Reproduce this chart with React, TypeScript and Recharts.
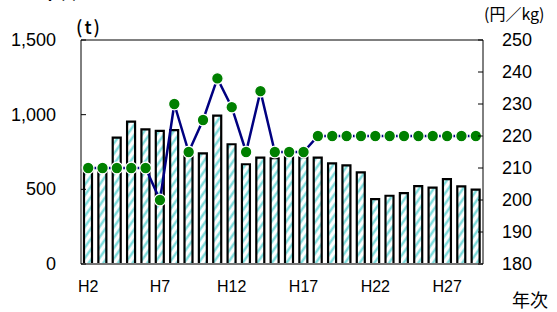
import React from 'react';
import { ComposedChart, Bar, Line, XAxis, YAxis, ReferenceLine } from 'recharts';

const years = ['H2','H3','H4','H5','H6','H7','H8','H9','H10','H11','H12','H13','H14','H15','H16','H17','H18','H19','H20','H21','H22','H23','H24','H25','H26','H27','H28','H29'];
const volume = [640,640,846,953,902,891,897,745,741,993,802,668,712,708,719,715,712,674,661,614,435,457,475,522,511,569,520,498];
const price = [210,210,210,210,210,200,230,215,225,238,229,215,234,215,215,215,220,220,220,220,220,220,220,220,220,220,220,220];
const leftTicks = [0,500,1000,1500];
const rightTicks = [180,190,200,210,220,230,240,250];

const data = years.map((y, i) => ({ year: y, volume: volume[i], price: price[i] }));

const FONT = '"Liberation Sans", Arial, "Noto Sans CJK JP", sans-serif';
const CJK = '"Noto Sans CJK JP", sans-serif';
const PLOT_LEFT = 81;
const PLOT_RIGHT = 483;
const PLOT_BOTTOM = 264;

const LeftTick = (props: any) => {
  const { y, payload } = props;
  return (
    <g>
      <line x1={PLOT_LEFT} x2={PLOT_LEFT + 5} y1={y} y2={y} stroke="#000" strokeWidth={1} />
      <text x={56} y={y} textAnchor="end" dominantBaseline="central" fontSize={18} fontFamily={FONT} fill="#000">
        {Number(payload.value).toLocaleString('en-US')}
      </text>
    </g>
  );
};

const RightTick = (props: any) => {
  const { y, payload } = props;
  return (
    <g>
      <line x1={PLOT_RIGHT - 5} x2={PLOT_RIGHT} y1={y} y2={y} stroke="#000" strokeWidth={1} />
      <text x={502} y={y} textAnchor="start" dominantBaseline="central" fontSize={18} fontFamily={FONT} fill="#000">
        {payload.value}
      </text>
    </g>
  );
};

const XTick = (props: any) => {
  const { x, payload } = props;
  return (
    <text x={x} y={PLOT_BOTTOM + 22} textAnchor="middle" dominantBaseline="central" fontSize={16} fontFamily={FONT} fill="#000">
      {payload.value}
    </text>
  );
};

const Dot = (props: any) => {
  const { cx, cy, index } = props;
  return <circle key={index} cx={cx} cy={cy} r={5.8} fill="#008000" stroke="#fff" strokeWidth={1.3} />;
};

export default function App() {
  return (
    <div style={{ position: 'absolute', left: 0, top: 0, width: 557, height: 312, background: '#fff', overflow: 'hidden', fontFamily: FONT }}>
      <ComposedChart width={557} height={312} data={data} margin={{ top: 40, right: 0, bottom: 0, left: 0 }} barCategoryGap={3}>
        <defs>
          <pattern id="hatch" patternUnits="userSpaceOnUse" width="6" height="6" patternTransform="rotate(35)">
            <rect width="6" height="6" fill="#fff" />
            <line x1="1.5" y1="0" x2="1.5" y2="6" stroke="#6fd8d8" strokeWidth="2.2" />
          </pattern>
        </defs>
        <XAxis dataKey="year" interval={4} height={48} tick={<XTick />} tickLine={false} axisLine={{ stroke: '#777', strokeWidth: 2 }} />
        <YAxis yAxisId="left" orientation="left" width={81} domain={[0, 1500]} ticks={leftTicks} tick={<LeftTick />} tickLine={false} axisLine={{ stroke: '#000', strokeWidth: 1 }} />
        <YAxis yAxisId="right" orientation="right" width={74} domain={[180, 250]} ticks={rightTicks} tick={<RightTick />} tickLine={false} axisLine={{ stroke: '#000', strokeWidth: 1 }} />
        <ReferenceLine yAxisId="left" y={1500} stroke="#000" strokeWidth={1} />
        <Bar yAxisId="left" dataKey="volume" barSize={8} fill="url(#hatch)" stroke="#000" strokeWidth={2.2} isAnimationActive={false} />
        <Line yAxisId="right" dataKey="price" type="linear" stroke="#000080" strokeWidth={2.5} dot={<Dot />} activeDot={false} isAnimationActive={false} />
      </ComposedChart>
      <div style={{ position: 'absolute', left: 22, top: -18, fontSize: 18, lineHeight: '18px', fontWeight: 'bold', fontFamily: CJK, whiteSpace: 'nowrap' }}>・年次</div>
      <div style={{ position: 'absolute', left: 76, top: 15, fontSize: 18, lineHeight: '22px', letterSpacing: 2, fontWeight: 500, fontFamily: CJK, whiteSpace: 'nowrap' }}>(t)</div>
      <div style={{ position: 'absolute', left: 484, top: 3, fontSize: 16, lineHeight: '20px', fontFamily: CJK, whiteSpace: 'nowrap' }}>(円／kg)</div>
      <div style={{ position: 'absolute', left: 512, top: 289, fontSize: 18, lineHeight: '20px', fontFamily: CJK, whiteSpace: 'nowrap' }}>年次</div>
    </div>
  );
}
